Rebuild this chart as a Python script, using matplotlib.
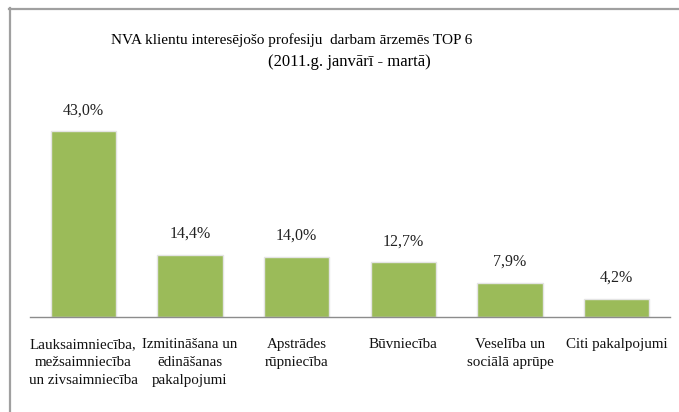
import matplotlib.pyplot as plt
from matplotlib.lines import Line2D

# data
categories = ['Lauksaimniecība,\nmežsaimniecība\nun zivsaimniecība',
              'Izmitināšana un\nēdināšanas\npakalpojumi',
              'Apstrādes\nrūpniecība',
              'Būvniecība',
              'Veselība un\nsociālā aprūpe',
              'Citi pakalpojumi']
values = [43.0, 14.4, 14.0, 12.7, 7.9, 4.2]
value_labels = ['43,0%', '14,4%', '14,0%', '12,7%', '7,9%', '4,2%']

plt.rcParams['font.family'] = ['Liberation Serif', 'DejaVu Serif']

W, H = 679, 412
fig = plt.figure(figsize=(W / 100, H / 100), dpi=100)
ax = fig.add_axes([30 / W, 1 - 317 / H, 640 / W, 216 / H])

x = range(len(values))
ax.bar(x, values, width=0.61, color='#9BBB59', edgecolor='#e4e4e4', linewidth=1.0)
for i, v in enumerate(values):
    ax.text(i, v + 3.0, value_labels[i], ha='center', va='bottom', fontsize=11.5, color='#222222')

ax.set_xlim(-0.5, len(values) - 0.5)
ax.set_ylim(0, 50)
ax.set_yticks([])
ax.set_xticks(list(x))
ax.set_xticklabels(categories, fontsize=10.8, color='#111111', linespacing=1.5)
ax.tick_params(axis='x', length=0, pad=15)
for s in ['top', 'right', 'left']:
    ax.spines[s].set_visible(False)
ax.spines['bottom'].set_color('#8c8c8c')
ax.spines['bottom'].set_linewidth(1.0)

# title (two lines, placed as in the original)
fig.text(292 / W, 1 - 40 / H, 'NVA klientu interesējošo profesiju  darbam ārzemēs TOP 6',
         ha='center', va='center', fontsize=11)
fig.text(349 / W, 1 - 62 / H, '(2011.g. janvārī - martā)',
         ha='center', va='center', fontsize=12)

# outer frame (only top and left edges visible)
fig.add_artist(Line2D([9 / W, 1], [1 - 8.5 / H, 1 - 8.5 / H], color='#a0a0a0', lw=1.6))
fig.add_artist(Line2D([9.5 / W, 9.5 / W], [0, 1 - 8 / H], color='#a0a0a0', lw=1.6))

fig.savefig('out.png', dpi=100)
